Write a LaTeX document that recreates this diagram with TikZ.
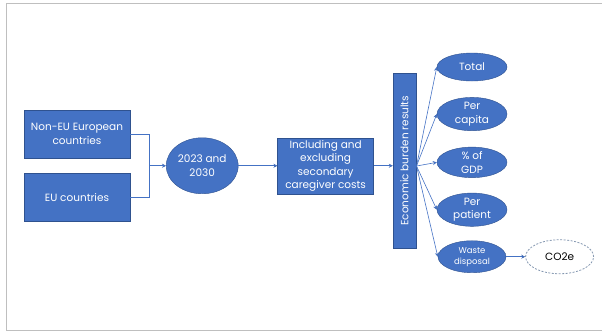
\documentclass[tikz,border=0pt]{standalone}
\usepackage{fontspec}
\setmainfont{Poppins}
\usepackage{tikz}
\usetikzlibrary{positioning}
\usetikzlibrary{arrows.meta,shapes.geometric}
\definecolor{offblue}{HTML}{4472C4}
\definecolor{offedge}{HTML}{2F528F}
\definecolor{framegray}{HTML}{BFBFBF}
\definecolor{dashgray}{HTML}{8497B0}
\tikzset{
  box/.style={draw=offedge,fill=offblue,text=white,align=center,inner sep=1pt,
    font=\fontsize{10.5}{13.5}\selectfont},
  oval/.style={ellipse,draw=offedge,fill=offblue,text=white,align=center,inner sep=0pt,
    font=\fontsize{10.5}{13.5}\selectfont},
  link/.style={draw=offblue,line width=0.6pt},
  tip/.style={-{Stealth[length=4pt,width=4pt]}}
}
\begin{document}
\begin{tikzpicture}[x=1pt,y=-1pt]
\useasboundingbox (0,0) rectangle (602,333);
\draw[framegray,line width=1pt] (602,3.5) -- (6.5,3.5) -- (6.5,330) -- (602,330);
\node[box,minimum width=106pt,minimum height=48pt] (noneu) at (77,134) {Non-EU European\\countries};
\node[box,minimum width=106pt,minimum height=48pt,below=15pt of noneu] (eu) {EU countries};
\coordinate (join) at (149,165.75);
\node[oval,minimum width=72pt,minimum height=56pt,right=17pt of join] (yr) {2023 and\\2030};
\node[box,minimum width=96pt,minimum height=56pt,right=39pt of yr] (incl) {Including and\\excluding\\secondary\\caregiver costs};
\node[box,minimum width=23pt,minimum height=175pt,right=19pt of incl,yshift=5pt] (econ) {};
\node[rotate=90,text=white,font=\fontsize{10.5}{13.5}\selectfont] (econlbl) at (econ) {Economic burden results};
\coordinate (fan) at (416.5,166);
\node[oval,minimum width=70pt,minimum height=28pt] (total) at (472,67) {Total};
\node[oval,minimum width=70pt,minimum height=30pt,below=16pt of total] (percap) {Per\\capita};
\node[oval,minimum width=70pt,minimum height=30pt,below=16pt of percap] (gdp) {\% of\\GDP};
\node[oval,minimum width=70pt,minimum height=32pt,below=15pt of gdp] (perpat) {Per\\patient};
\node[oval,minimum width=68pt,minimum height=32pt,below=14pt of perpat,font=\fontsize{8.5}{11}\selectfont] (waste) {Waste\\disposal};
\node[ellipse,draw=dashgray,dash pattern=on 2pt off 1.5pt,line width=0.8pt,minimum width=68pt,minimum height=34pt,
  right=19pt of waste,font=\fontsize{10.5}{13.5}\selectfont] (co2) {CO2e};
\draw[link] (noneu.east) -| (join)
            (eu.east) -| (join);
\draw[link] (join) edge[tip] (yr)
            (yr) edge[tip] (incl)
            (incl) edge[tip] (econ.west|-incl);
\draw[link] (fan) edge[tip] (total.west)
            (fan) edge[tip] (percap.west)
            (fan) edge[tip] (gdp.west)
            (fan) edge[tip] (perpat.west)
            (fan) edge[tip] (waste.west)
            (waste) edge[tip] (co2);
\end{tikzpicture}
\end{document}
